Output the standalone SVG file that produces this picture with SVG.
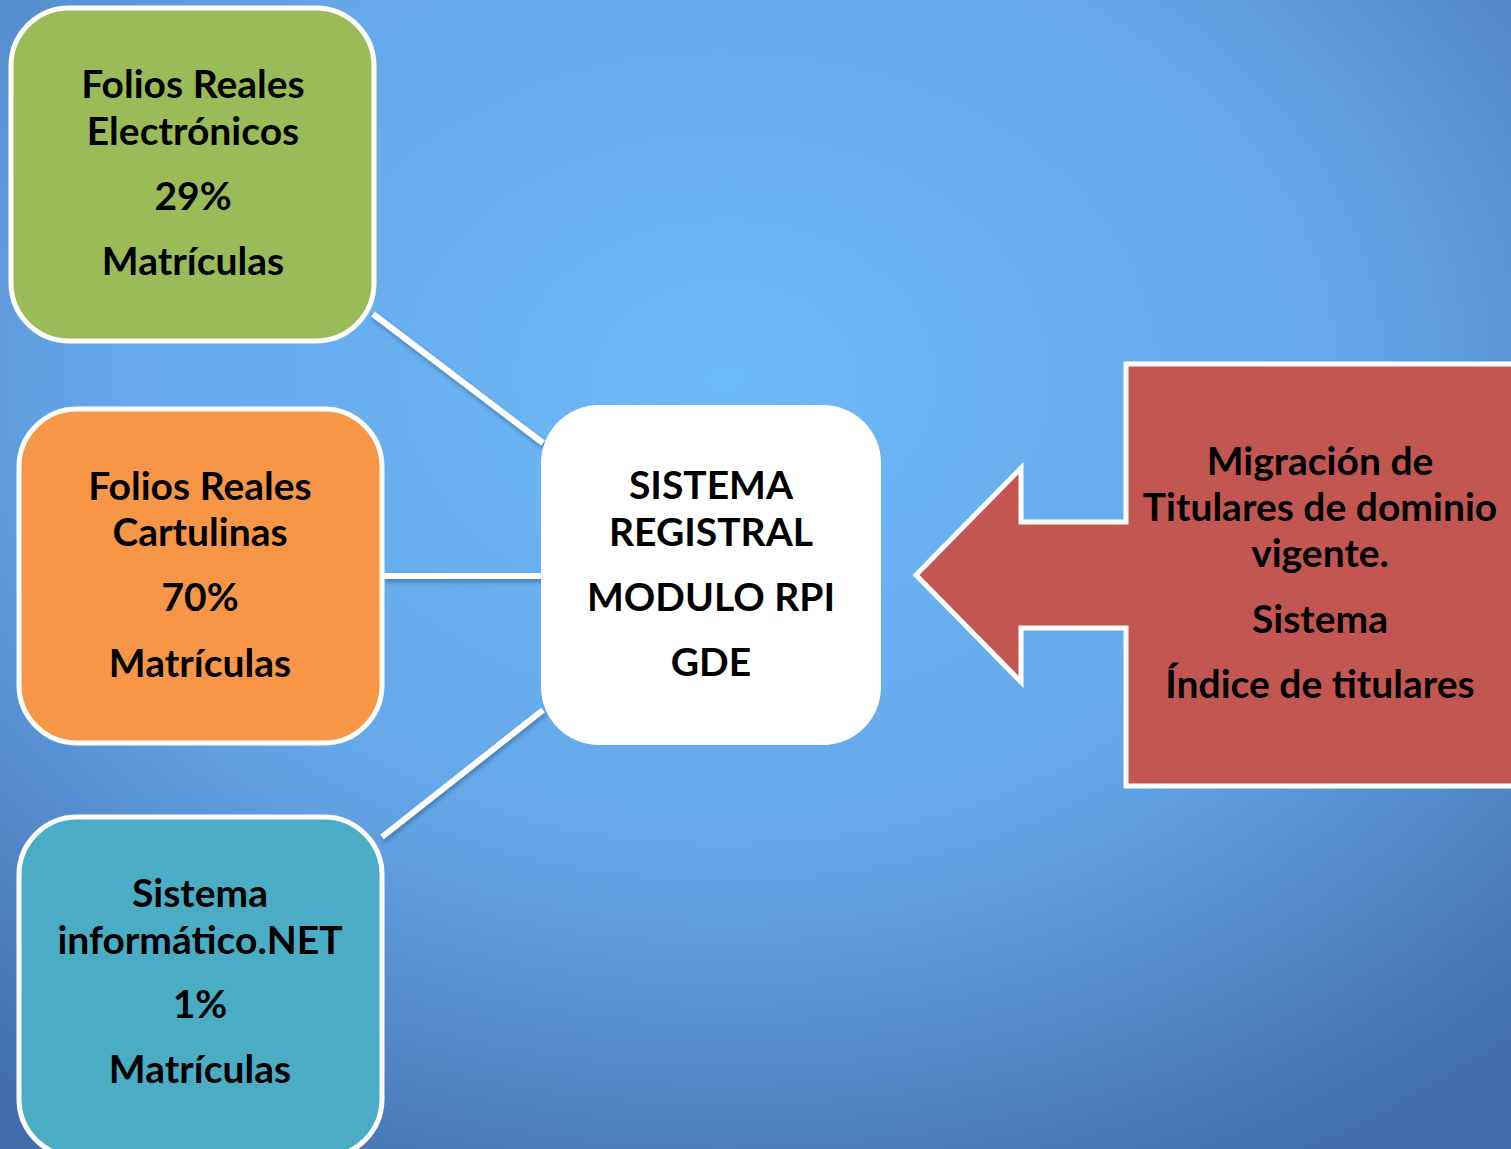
<svg xmlns="http://www.w3.org/2000/svg" width="1511" height="1149" viewBox="0 0 1511 1149">
<defs>
<radialGradient id="bg" cx="48%" cy="33%" r="80%" fx="48%" fy="33%">
<stop offset="0" stop-color="#6dbaf8"/>
<stop offset="0.5" stop-color="#66a8ea"/>
<stop offset="1" stop-color="#3f6cab"/>
</radialGradient>
<filter id="sh" x="-10%" y="-10%" width="120%" height="130%">
<feDropShadow dx="1" dy="3" stdDeviation="2" flood-color="#1f3f6f" flood-opacity="0.45"/>
</filter>
<style>
.box{stroke:#ffffff;stroke-width:5}
.t{font-family:Lato,"Open Sans","Liberation Sans",sans-serif;font-weight:bold;font-size:39px;fill:#000;text-anchor:middle}
.conn{stroke:#ffffff;stroke-width:6;fill:none}
</style>
</defs>
<rect x="0" y="0" width="1511" height="1149" fill="url(#bg)"/>
<g id="connectors" filter="url(#sh)">
<line class="conn" x1="373" y1="314" x2="543" y2="443"/>
<line class="conn" x1="383" y1="576" x2="543" y2="576"/>
<line class="conn" x1="382" y1="837" x2="543" y2="710"/>
</g>
<g id="node-green">
<rect class="box" x="11" y="8" width="363" height="333" rx="58" fill="#9bbb59"/>
<text class="t" x="193" y="98">Folios Reales</text>
<text class="t" x="193" y="145">Electrónicos</text>
<text class="t" x="193" y="210">29%</text>
<text class="t" x="193" y="275">Matrículas</text>
</g>
<g id="node-orange">
<rect class="box" x="19" y="409" width="363" height="334" rx="58" fill="#f79646"/>
<text class="t" x="200" y="500">Folios Reales</text>
<text class="t" x="200" y="546">Cartulinas</text>
<text class="t" x="200" y="611">70%</text>
<text class="t" x="200" y="677">Matrículas</text>
</g>
<g id="node-teal">
<rect class="box" x="19" y="817" width="363" height="340" rx="58" fill="#4bacc6"/>
<text class="t" x="200" y="907">Sistema</text>
<text class="t" x="200" y="954">informático.NET</text>
<text class="t" x="200" y="1018">1%</text>
<text class="t" x="200" y="1083">Matrículas</text>
</g>
<g id="node-center">
<rect x="541" y="405" width="340" height="340" rx="58" fill="#ffffff"/>
<text class="t" x="711" y="499">SISTEMA</text>
<text class="t" x="711" y="546">REGISTRAL</text>
<text class="t" x="711" y="611">MODULO RPI</text>
<text class="t" x="711" y="676">GDE</text>
</g>
<g id="node-red">
<path class="box" d="M1126,364 L1520,364 L1520,786 L1126,786 L1126,628 L1021,628 L1021,682 L916,575 L1021,468 L1021,522 L1126,522 Z" fill="#c25752"/>
<text class="t" x="1320" y="475">Migración de</text>
<text class="t" x="1320" y="521">Titulares de dominio</text>
<text class="t" x="1320" y="567">vigente.</text>
<text class="t" x="1320" y="633">Sistema</text>
<text class="t" x="1320" y="698">Índice de titulares</text>
</g>
</svg>
